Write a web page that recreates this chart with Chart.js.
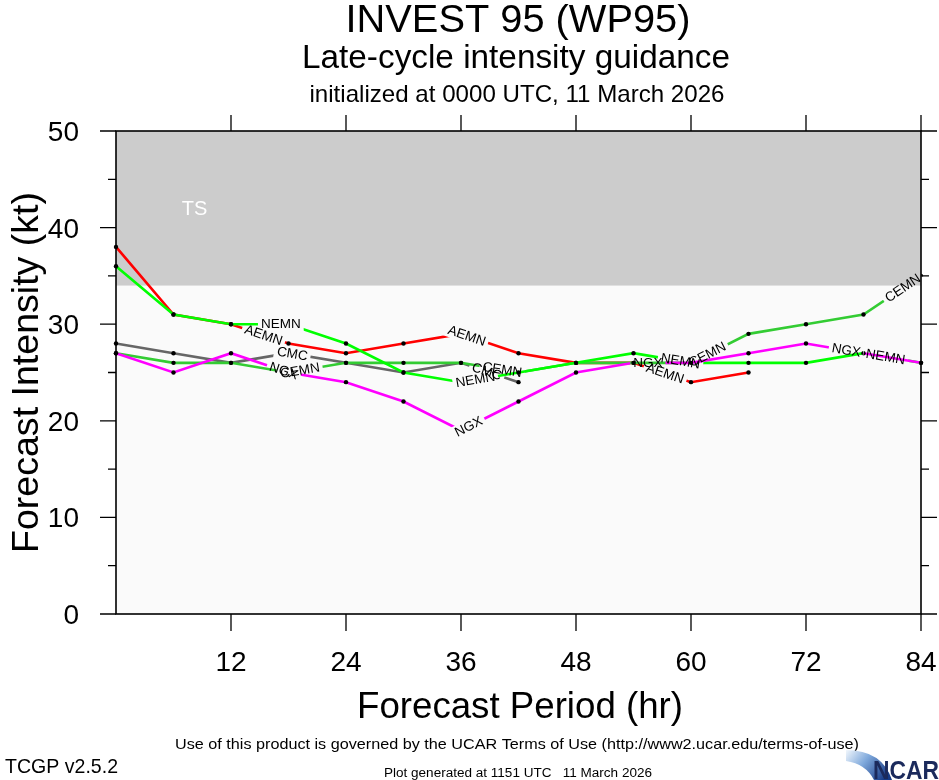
<!DOCTYPE html>
<html><head><meta charset="utf-8">
<script src="https://cdn.jsdelivr.net/npm/chart.js@4.4.1/dist/chart.umd.min.js"></script>
<style>html,body{margin:0;padding:0;background:#fff;overflow:hidden}</style>
</head><body>
<canvas id="c" width="939" height="780"></canvas>
<script>
// ---------- data ----------
const hours = [0,6,12,18,24,30,36,42,48,54,60,66,72,78,84];
const AEMN = [38,31,30,28,27,28,29,27,26,26,24,25,null,null,null];
const CMC  = [28,27,26,27,26,25,26,24,null,null,null,null,null,null,null];
const CEMN = [27,26,26,25,26,26,26,25,26,26,26,29,30,31,35];
const NEMN = [36,31,30,30,28,25,24,25,26,27,26,26,26,27,26];
const NGX  = [27,25,27,25,24,22,19,22,25,26,26,27,28,27,26];
// hours at which each model's name is written along its line
const AEMN_LABEL_HRS = [15.4, 36.6, 57.3];
const CMC_LABEL_HRS  = [18.4, 38.7];
const CEMN_LABEL_HRS = [19.2, 40.3, 61.7, 82.1];
const NEMN_LABEL_HRS = [17.2, 37.5, 58.9, 80.3];
const NGX_LABEL_HRS  = [17.5, 36.8, 55.5, 76.2];
const xTicks = [12,24,36,48,60,72,84];
const yTicks = [0,10,20,30,40,50];
const yMinor = [5,15,25,35,45];
const TS_MIN = 34, TS_MAX = 50;

const FONT = '"Liberation Sans", Arial, Helvetica, sans-serif';
const LABEL_FONT = '13.5px ' + FONT;

function pts(arr){ const o=[]; hours.forEach((h,i)=>{ if(arr[i]!==null) o.push({x:h,y:arr[i]}); }); return o; }
function ds(name, arr, color, lab){
  return {label:name, data:pts(arr), raw:arr, labelHrs:lab, borderColor:color, backgroundColor:color,
    borderWidth:2.6, pointRadius:2.2, pointHoverRadius:2.2, pointBackgroundColor:'#000', pointBorderWidth:0,
    tension:0, fill:false, clip:false};
}
// first dataset is drawn on top
const datasets = [
  ds('NGX', NGX, '#ff00ff', NGX_LABEL_HRS),
  ds('NEMN', NEMN, '#00ff00', NEMN_LABEL_HRS),
  ds('CEMN', CEMN, '#33cc33', CEMN_LABEL_HRS),
  ds('CMC', CMC, '#666666', CMC_LABEL_HRS),
  ds('AEMN', AEMN, '#ff0000', AEMN_LABEL_HRS)
];

function labelBoxes(chart, dsi){
  const d = chart.data.datasets[dsi];
  const xs = chart.scales.x, ys = chart.scales.y, ctx = chart.ctx;
  ctx.save(); ctx.font = LABEL_FONT; const w = ctx.measureText(d.label).width; ctx.restore();
  return d.labelHrs.map(h=>{
    let i = 0; while(i < hours.length-2 && hours[i+1] <= h) i++;
    const x0 = xs.getPixelForValue(hours[i]), y0 = ys.getPixelForValue(d.raw[i]);
    const x1 = xs.getPixelForValue(hours[i+1]), y1 = ys.getPixelForValue(d.raw[i+1]);
    const t = (h-hours[i])/(hours[i+1]-hours[i]);
    return {cx:x0+t*(x1-x0), cy:y0+t*(y1-y0), ang:Math.atan2(y1-y0,x1-x0), w:w};
  });
}

function fitText(ctx, s, x, y, size, align, width, opts){
  opts = opts||{};
  ctx.save();
  ctx.font = (opts.weight?opts.weight+' ':'') + size + 'px ' + (opts.family||FONT);
  ctx.fillStyle = opts.color||'#000';
  ctx.textBaseline = 'alphabetic';
  const nat = ctx.measureText(s).width;
  const sx = width ? width/nat : 1;
  ctx.translate(x, y);
  if (opts.rot) ctx.rotate(opts.rot);
  ctx.scale(sx, 1);
  let ox = align==='center' ? -nat/2 : (align==='right' ? -nat : 0);
  ctx.textAlign = 'left';
  ctx.fillText(s, ox, 0);
  ctx.restore();
}

const decor = {
  id:'decor',
  beforeDatasetsDraw(chart){
    const {ctx, chartArea:a, scales:{x,y}} = chart;
    ctx.save();
    ctx.fillStyle = '#fafafa';
    ctx.fillRect(a.left, a.top, a.right-a.left, a.bottom-a.top);
    const yt = y.getPixelForValue(TS_MAX), yb = y.getPixelForValue(TS_MIN);
    ctx.fillStyle = '#cccccc';
    ctx.fillRect(a.left, yt, a.right-a.left, yb-yt);
    ctx.restore();
    ctx.save();
    ctx.font = '20px ' + FONT; ctx.fillStyle = '#ffffff'; ctx.textAlign='center'; ctx.textBaseline='middle';
    ctx.fillText('TS', x.getPixelForValue(8.2), y.getPixelForValue(41.9));
    ctx.restore();
  },
  beforeDatasetDraw(chart, args){
    const ctx = chart.ctx;
    const boxes = labelBoxes(chart, args.index);
    ctx.save();
    ctx.beginPath();
    ctx.rect(0,0,chart.width,chart.height);
    boxes.forEach(b=>{
      const hw = b.w/2+3, hh = 7, c = Math.cos(b.ang), s = Math.sin(b.ang);
      const p = [[-hw,-hh],[hw,-hh],[hw,hh],[-hw,hh]].map(([u,v])=>[b.cx+u*c-v*s, b.cy+u*s+v*c]);
      ctx.moveTo(p[0][0],p[0][1]); ctx.lineTo(p[3][0],p[3][1]); ctx.lineTo(p[2][0],p[2][1]); ctx.lineTo(p[1][0],p[1][1]); ctx.closePath();
    });
    ctx.clip('evenodd');
  },
  afterDatasetDraw(chart){ chart.ctx.restore(); },
  afterDatasetsDraw(chart){
    const ctx = chart.ctx;
    for (let i = chart.data.datasets.length-1; i >= 0; i--){
      const d = chart.data.datasets[i];
      labelBoxes(chart, i).forEach(b=>{
        ctx.save();
        ctx.translate(b.cx, b.cy); ctx.rotate(b.ang);
        ctx.font = LABEL_FONT; ctx.fillStyle = '#000'; ctx.textAlign='center'; ctx.textBaseline='middle';
        ctx.fillText(d.label, 0, 0.5);
        ctx.restore();
      });
    }
  },
  afterDraw(chart){
    const {ctx, chartArea:a, scales:{x,y}} = chart;
    ctx.save();
    ctx.strokeStyle = '#000'; ctx.lineWidth = 1.6;
    ctx.strokeRect(a.left, a.top, a.right-a.left, a.bottom-a.top);
    ctx.lineWidth = 1.3;
    ctx.beginPath();
    yTicks.forEach(v=>{ const py = y.getPixelForValue(v);
      ctx.moveTo(a.left-16, py); ctx.lineTo(a.left, py); ctx.moveTo(a.right, py); ctx.lineTo(a.right+16, py); });
    yMinor.forEach(v=>{ const py = y.getPixelForValue(v);
      ctx.moveTo(a.left-8, py); ctx.lineTo(a.left, py); ctx.moveTo(a.right, py); ctx.lineTo(a.right+8, py); });
    xTicks.forEach(v=>{ const px = x.getPixelForValue(v);
      ctx.moveTo(px, a.bottom); ctx.lineTo(px, a.bottom+17); ctx.moveTo(px, a.top); ctx.lineTo(px, a.top-16); });
    ctx.stroke();
    ctx.restore();
    // tick labels
    yTicks.forEach(v=> fitText(ctx, String(v), 79, y.getPixelForValue(v)+10, 28, 'right'));
    xTicks.forEach(v=> fitText(ctx, String(v), x.getPixelForValue(v), 671, 28, 'center'));
    // titles
    fitText(ctx, 'INVEST 95 (WP95)', 518, 32, 38, 'center', 345);
    fitText(ctx, 'Late-cycle intensity guidance', 516, 68, 33.5, 'center', 428);
    fitText(ctx, 'initialized at 0000 UTC, 11 March 2026', 517, 102, 24, 'center', 415);
    fitText(ctx, 'Forecast Intensity (kt)', 38, (a.top+a.bottom)/2, 37, 'center', 361, {rot:-Math.PI/2});
    fitText(ctx, 'Forecast Period (hr)', 520, 718, 37, 'center', 326);
    fitText(ctx, 'Use of this product is governed by the UCAR Terms of Use (http://www2.ucar.edu/terms-of-use)', 517, 749, 15, 'center', 684);
    fitText(ctx, 'TCGP v2.5.2', 5, 773, 21, 'left', 113);
    fitText(ctx, 'Plot generated at 1151 UTC   11 March 2026', 518, 777, 12.5, 'center', 268);
    // NCAR logo
    ctx.save();
    const g = ctx.createLinearGradient(846, 750, 884, 780);
    g.addColorStop(0, '#f2f7fc'); g.addColorStop(0.45, '#7fa9dc'); g.addColorStop(1, '#163a86');
    ctx.fillStyle = g;
    ctx.beginPath();
    ctx.moveTo(846, 750);
    ctx.quadraticCurveTo(882, 750, 892, 780);
    ctx.lineTo(874, 780);
    ctx.quadraticCurveTo(866, 764, 846, 761);
    ctx.closePath();
    ctx.fill();
    ctx.restore();
    fitText(ctx, 'NCAR', 873, 779, 26, 'left', 66, {weight:'bold', color:'#1b2a5c', family:'"Liberation Sans Narrow", "Liberation Sans", Arial, sans-serif'});
  }
};

new Chart(document.getElementById('c'), {
  type:'line',
  data:{datasets:datasets},
  options:{
    responsive:false, animation:false, devicePixelRatio:1,
    layout:{padding:{left:116, top:131, right:18, bottom:166}},
    plugins:{legend:{display:false}, tooltip:{enabled:false}, title:{display:false}},
    scales:{
      x:{type:'linear', min:0, max:84, display:false, ticks:{stepSize:12}},
      y:{type:'linear', min:0, max:50, display:false, ticks:{stepSize:10}}
    }
  },
  plugins:[decor]
});
</script>
</body></html>
